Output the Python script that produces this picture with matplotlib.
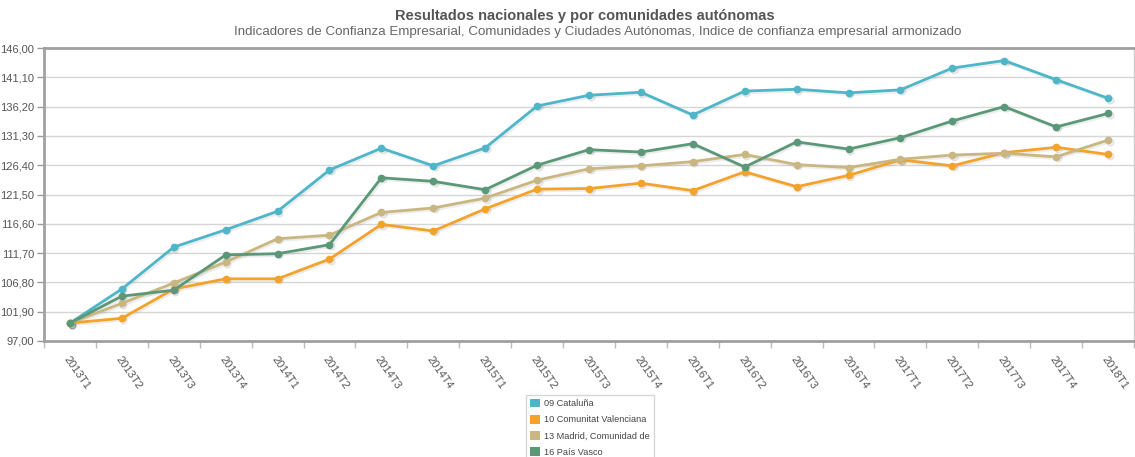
import matplotlib.pyplot as plt
import numpy as np

plt.rcParams['font.family'] = ['Liberation Sans', 'DejaVu Sans']

periods = ["2013T1", "2013T2", "2013T3", "2013T4",
           "2014T1", "2014T2", "2014T3", "2014T4",
           "2015T1", "2015T2", "2015T3", "2015T4",
           "2016T1", "2016T2", "2016T3", "2016T4",
           "2017T1", "2017T2", "2017T3", "2017T4",
           "2018T1"]

cataluna = [100.0, 105.7, 112.7, 115.6, 118.7, 125.6, 129.25, 126.3, 129.3, 136.3, 138.1,
            138.6, 134.8, 138.8, 139.1, 138.5, 139.0, 142.65, 143.9, 140.7, 137.6]
valenciana = [100.0, 100.8, 105.7, 107.4, 107.4, 110.7, 116.5, 115.4, 119.1, 122.4, 122.5,
              123.4, 122.15, 125.3, 122.8, 124.7, 127.3, 126.3, 128.5, 129.4, 128.2]
madrid = [100.0, 103.3, 106.7, 110.2, 114.1, 114.7, 118.5, 119.25, 120.9, 123.9, 125.8,
          126.3, 127.0, 128.2, 126.5, 126.0, 127.4, 128.1, 128.4, 127.8, 130.6]
pais_vasco = [100.0, 104.5, 105.5, 111.4, 111.6, 113.1, 124.3, 123.7, 122.3, 126.4, 129.0,
              128.6, 130.0, 126.1, 130.3, 129.1, 131.0, 133.8, 136.2, 132.8, 135.05]

series = [
    ("09 Cataluña", cataluna, "#4db6c9"),
    ("10 Comunitat Valenciana", valenciana, "#f3a32a"),
    ("13 Madrid, Comunidad de", madrid, "#c9b680"),
    ("16 País Vasco", pais_vasco, "#5a9878"),
]

yticks = [97.0, 101.9, 106.8, 111.7, 116.6, 121.5, 126.4, 131.3, 136.2, 141.1, 146.0]

W, H = 1135, 457
fig = plt.figure(figsize=(W / 100, H / 100), dpi=100)
ax = fig.add_axes([44 / W, 1 - 341 / H, (1134 - 44) / W, (341 - 48) / H])

x = np.arange(len(periods))
handles = []
for name, vals, col in series:
    # faint shadow under each line, like the original
    ax.plot(x + 0.03, np.array(vals) - 0.25, color="#000000", alpha=0.07, lw=2.5,
            marker="o", ms=5, zorder=2)
    ax.plot(x, vals, color=col, lw=2, marker="o", ms=4.5, zorder=3)
    handles.append(plt.Rectangle((0, 0), 1, 1, facecolor=col, edgecolor="none", label=name))

ax.set_xlim(-0.5, len(periods) - 0.5)
ax.set_ylim(97, 146)
ax.set_yticks(yticks)
ax.set_yticklabels([f"{v:.2f}".replace(".", ",") for v in yticks])
ax.yaxis.grid(True, color="#d6d6d6", lw=1)
ax.set_axisbelow(True)

ax.set_xticks(x)
ax.set_xticklabels(periods, rotation=-55, ha="left", va="top", rotation_mode="anchor")
ax.set_xticks(np.arange(-0.5, len(periods)), minor=True)
ax.tick_params(axis="x", which="major", length=0, pad=10, labelsize=8, labelcolor="#555555")
ax.tick_params(axis="x", which="minor", length=5, color="#bbbbbb", width=1)
ax.tick_params(axis="y", length=5, color="#999999", width=1, labelsize=8, labelcolor="#555555", pad=2)

for side in ["left", "bottom", "top"]:
    ax.spines[side].set_color("#a0a0a0")
    ax.spines[side].set_linewidth(2)
ax.spines["right"].set_color("#cccccc")
ax.spines["right"].set_linewidth(1)

fig.text(585 / W, 1 - 16 / H, "Resultados nacionales y por comunidades autónomas",
         ha="center", va="center", fontsize=10.5, fontweight="bold", color="#555555")
fig.text(598 / W, 1 - 32 / H,
         "Indicadores de Confianza Empresarial, Comunidades y Ciudades Autónomas, "
         "Indice de confianza empresarial armonizado",
         ha="center", va="center", fontsize=9.6, color="#666666")

leg = fig.legend(handles=handles, loc="upper left", bbox_to_anchor=(526 / W, 1 - 395 / H),
                 borderaxespad=0, fontsize=6.6, frameon=True, fancybox=False,
                 handlelength=1.1, handleheight=1.1, handletextpad=0.5, labelspacing=0.72,
                 borderpad=0.4, labelcolor="#444444")
leg.get_frame().set_edgecolor("#cccccc")
leg.get_frame().set_linewidth(1)

fig.savefig("out.png", dpi=100)
